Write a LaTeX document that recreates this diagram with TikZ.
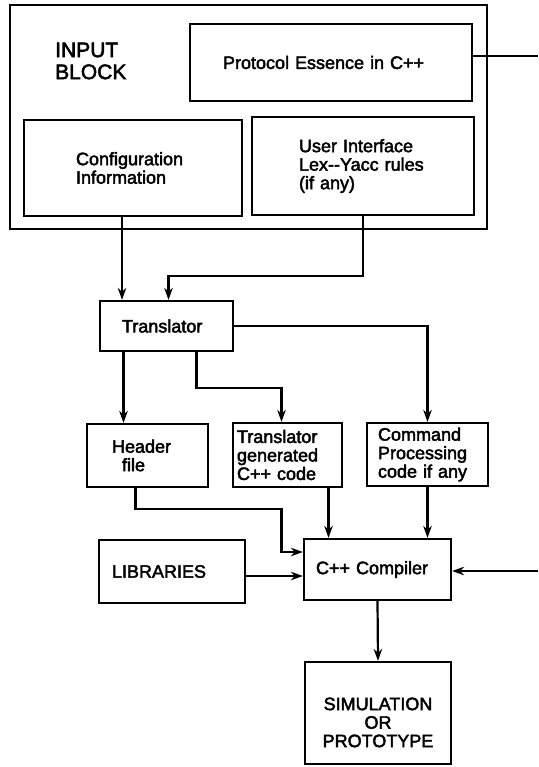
\documentclass[tikz,border=0pt]{standalone}
\usepackage{fontspec}
\newfontfamily\diafont{Liberation Sans}[FakeBold=2.5]
\usetikzlibrary{arrows.meta}

\tikzset{
 blk/.style={draw,line width=2.2pt,inner ysep=0pt,align=left,font=\diafont\fontsize{18}{18.5}\selectfont},
 arr/.style={line width=2.2pt,-{Stealth[length=12pt,width=8.5pt]}}
}

\begin{document}
\begin{tikzpicture}[x=1pt,y=-1pt]
 \useasboundingbox (0,0) rectangle (538,767);
 \node[blk,minimum width=477pt,minimum height=224pt] (inblk) at (248.5,117) {};
 \node[anchor=west,inner sep=0pt,align=left,font=\diafont\fontsize{21}{22}\selectfont] (inlbl) at (55,61) {INPUT\\BLOCK};
 \node[blk,inner xsep=33pt,text width=216pt,minimum height=77pt] (essence) at (331,62.5) {Protocol Essence in C++};
 \node[blk,inner xsep=52pt,text width=114pt,minimum height=96pt] (config) at (133,168) {Configuration\\Information};
 \node[blk,inner xsep=47pt,text width=128pt,minimum height=98pt] (ui) at (363,166) {User Interface\\Lex-{}-Yacc rules\\(if any)};
 \node[blk,inner xsep=22pt,text width=89pt,minimum height=50pt] (transl) at (166.5,326) {Translator};
 \node[blk,inner xsep=25pt,text width=71pt,minimum height=63pt] (header) at (147.5,455.5) {Header\\\hspace*{10pt}file};
 \node[blk,inner xsep=4pt,text width=101pt,minimum height=64pt] (gencode) at (287.5,455) {Translator\\generated\\C++ code};
 \node[blk,inner xsep=11pt,text width=99pt,minimum height=63pt] (cmdproc) at (427.5,454.5) {Command\\Processing\\code if any};
 \node[blk,inner xsep=12pt,text width=123pt,minimum height=61pt] (compiler) at (377.5,569.5) {C++ Compiler};
 \node[blk,inner xsep=13pt,text width=120pt,minimum height=63pt] (libs) at (172,571.5) {LIBRARIES};
 \node[blk,align=center,minimum width=146pt,minimum height=102pt] (sim) at (378,713) {\strut\\SIMULATION\\OR\\PROTOTYPE};
 \coordinate (extout) at (538,56);
 \coordinate (extin) at (538,571);
 \coordinate (c1) at ([xshift=-11pt]config.south);
 \coordinate (c2) at ([xshift=-24pt]header.north);
 \coordinate (c3) at ([xshift=41pt]gencode.south);
 \coordinate (c4) at ([yshift=-4.5pt]libs.east);
 \draw[line width=2.2pt] ([yshift=6.5pt]essence.east) -- (extout);
 \draw[arr] (c1) -- (c1 |- transl.north);
 \draw[arr] (ui.south) -- ++(0,60) -| ([xshift=2pt]transl.north);
 \draw[arr] (transl.east) -| (cmdproc.north);
 \draw[arr] (c2 |- transl.south) -- (c2);
 \draw[arr] ([xshift=30pt]transl.south) -- ++(0,36) -| ([xshift=-6pt]gencode.north);
 \draw[arr] ([xshift=-12pt]header.south) -- ++(0,21) -- ++(146,0) |- ([yshift=17.5pt]compiler.west);
 \draw[arr] (c3) -- (c3 |- compiler.north);
 \draw[arr] (cmdproc.south) -- (cmdproc.south |- compiler.north);
 \draw[arr] (c4) -- (c4 -| compiler.west);
 \draw[arr] (extin) -- (extin -| compiler.east);
 \draw[arr] (compiler.south) -- (sim.north);
\end{tikzpicture}
\end{document}
